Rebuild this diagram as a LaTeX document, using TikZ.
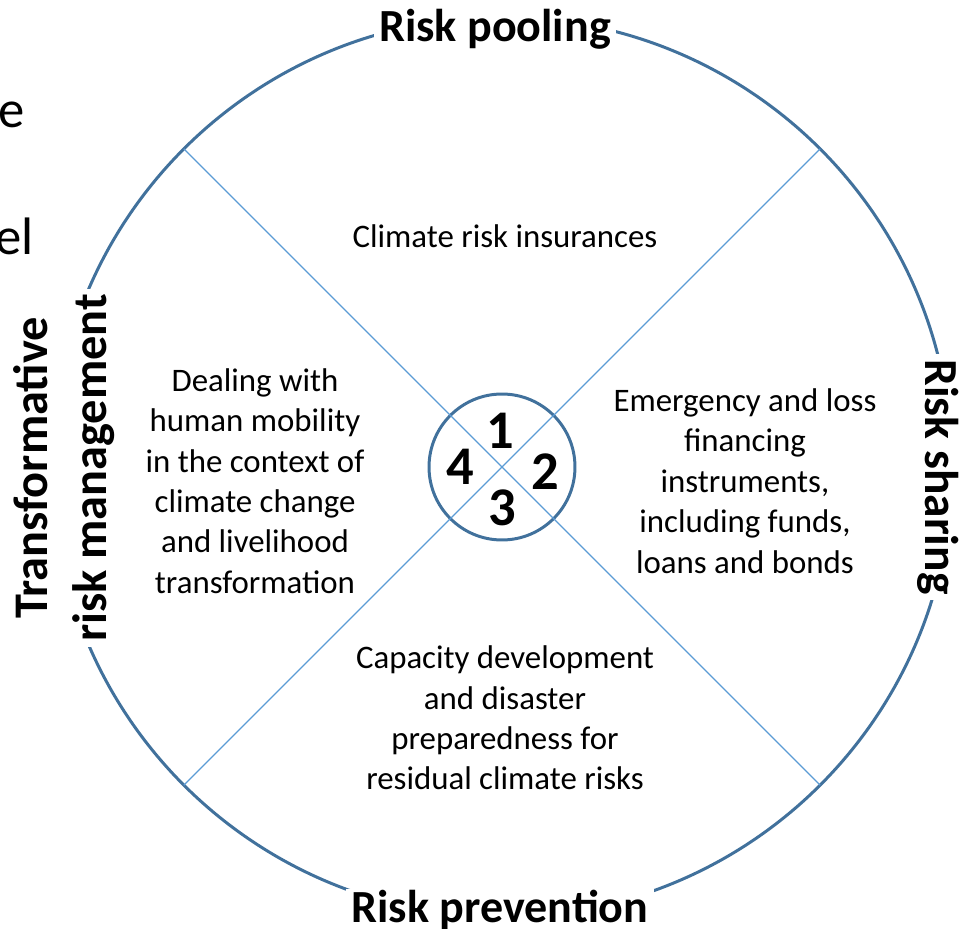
\documentclass[tikz,border=0pt]{standalone}
\usepackage{fontspec}
\setmainfont{Carlito}
\usepackage{xcolor}
\definecolor{ringblue}{HTML}{41719C}
\definecolor{spokeblue}{HTML}{5B9BD5}

\begin{document}
\begin{tikzpicture}[x=0.02cm, y=-0.02cm,
    rim/.style={fill=white, inner xsep=3pt, inner ysep=1pt, font=\fontsize{26.2}{33}\selectfont\bfseries},
    sector/.style={align=center, font=\fontsize{18.7}{23}\selectfont},
    digit/.style={inner sep=0pt, font=\fontsize{31}{31}\selectfont\bfseries},
    spoke/.style={draw=spokeblue, line width=0.75pt},
    wheel/.style={circle, draw=ringblue, line width=1.7pt, inner sep=0pt, outer sep=0pt}]
        \useasboundingbox (0,0) rectangle (965,929);

        % outer ring, hub and the two diagonals
        \node (ring) at (502,467) [wheel, minimum size=18cm]   {};
        \node (hub)  at (502,467) [wheel, minimum size=2.92cm] {};
        \draw[spoke] (ring.135) -- (ring.-45);
        \draw[spoke] (ring.45)  -- (ring.-135);

        % labels on the ring
        \node (pool)   at (495,42)  [rim, anchor=base]              {Risk pooling};
        \node (share)  at (925,477) [rim, anchor=base, rotate=-90, font=\fontsize{27}{33}\selectfont\bfseries] {Risk sharing};
        \node (prev)   at (500,923) [rim, anchor=base]              {Risk prevention};
        \node (transf) at (64,468)  [rim, align=center, rotate=90, font=\fontsize{27.5}{34}\selectfont\bfseries] {Transformative\\risk management};

        % numbers in the hub
        \node (n1) at (500,431) [digit] {1};
        \node (n2) at (545,472) [digit] {2};
        \node (n3) at (502,508) [digit] {3};
        \node (n4) at (460,467) [digit] {4};

        % the four sectors
        \node (insure)  at (505,236) [sector] {Climate risk insurances};
        \node (finance) at (745,481) [sector] {Emergency and loss\\financing\\instruments,\\including funds,\\loans and bonds};
        \node (prepare) at (505,718) [sector] {Capacity development\\and disaster\\preparedness for\\residual climate risks};
        \node (mobile)  at (255,481) [sector] {Dealing with\\human mobility\\in the context of\\climate change\\and livelihood\\transformation};

        % cut-off words at the left edge
        \node (cut1) at (31,128) [anchor=base east, font=\fontsize{30}{30}\selectfont] {le};
        \node (cut2) at (40,255) [anchor=base east, font=\fontsize{30}{30}\selectfont] {el};
    \end{tikzpicture}
\end{document}
